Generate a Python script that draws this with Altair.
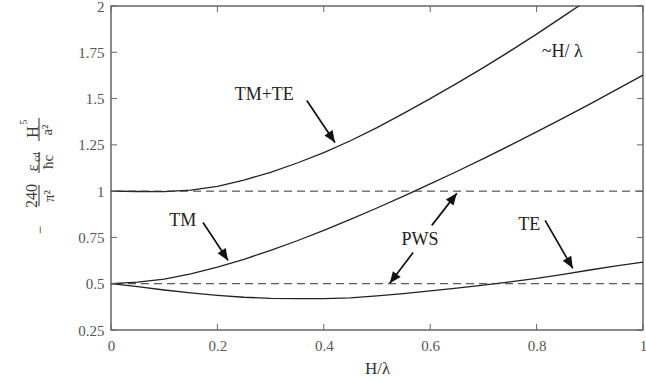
import math
import altair as alt
import pandas as pd

# ---------------- data ----------------
x_vals = [0.0, 0.05, 0.1, 0.15, 0.2, 0.25, 0.3, 0.35, 0.4, 0.45, 0.5,
          0.55, 0.6, 0.65, 0.7, 0.75, 0.8, 0.85, 0.9, 0.95, 1.0]
te_vals = [0.5, 0.484, 0.466, 0.45, 0.437, 0.427, 0.421, 0.419, 0.419, 0.424, 0.434,
           0.447, 0.461, 0.476, 0.492, 0.51, 0.529, 0.551, 0.574, 0.596, 0.617]
tm_vals = [0.5, 0.509, 0.525, 0.553, 0.589, 0.632, 0.68, 0.732, 0.788, 0.847, 0.909,
           0.973, 1.039, 1.106, 1.176, 1.247, 1.32, 1.394, 1.47, 1.548, 1.627]
x_sum = [0.0, 0.05, 0.1, 0.15, 0.2, 0.25, 0.3, 0.35, 0.4, 0.45, 0.5,
         0.55, 0.6, 0.65, 0.7, 0.75, 0.8, 0.85, 0.9]
tmte_vals = [1.0, 0.998, 0.997, 1.005, 1.026, 1.06, 1.102, 1.152, 1.208, 1.272, 1.343,
             1.42, 1.5, 1.582, 1.667, 1.756, 1.848, 1.944, 2.04]

pws_levels = [0.5, 1.0]
x_ticks = [0, 0.2, 0.4, 0.6, 0.8, 1]
y_ticks = [0.25, 0.5, 0.75, 1, 1.25, 1.5, 1.75, 2]

ann_text = ["TM+TE", "~H/ λ", "TM", "PWS", "TE"]
ann_x = [0.288, 0.848, 0.135, 0.581, 0.786]
ann_y = [1.517, 1.75, 0.837, 0.734, 0.815]

arrow_x0 = [0.368, 0.173, 0.603, 0.568, 0.816]
arrow_y0 = [1.49, 0.831, 0.815, 0.669, 0.842]
arrow_x1 = [0.421, 0.220, 0.650, 0.524, 0.868]
arrow_y1 = [1.263, 0.626, 0.988, 0.502, 0.583]

# ---------------- layout ----------------
W, H = 532, 324
X_DOM, Y_DOM = [0, 1], [0.25, 2]
FONT = "Liberation Serif"
INK = "#222222"
GREY = "#555555"
TITLE_INK = "#3a3a3a"

xs = alt.Scale(domain=X_DOM, nice=False, zero=False)
ys = alt.Scale(domain=Y_DOM, nice=False, zero=False)

curves = pd.DataFrame({"x": x_vals, "TE": te_vals, "TM": tm_vals})
sum_df = pd.DataFrame({"x": x_sum, "S": tmte_vals})

AX = alt.Axis(values=x_ticks, labelExpr="toString(datum.value)", grid=False,
              ticks=False, domain=False, labelFont=FONT, labelFontSize=15,
              labelColor=GREY, labelPadding=8, labelFlush=False,
              title="H/λ", titleFont=FONT, titleFontSize=17,
              titleFontWeight="normal", titleColor="#333333",
              titleX=266, titleY=38, titleBaseline="middle")
AY = alt.Axis(values=y_ticks, labelExpr="toString(datum.value)", grid=False,
              ticks=False, domain=False, labelFont=FONT, labelFontSize=15,
              labelColor=GREY, labelPadding=7, labelFlush=False, title="")


def X(field):
    return alt.X(field, scale=xs, axis=AX, title="H/λ")


def Y(field):
    return alt.Y(field, scale=ys, axis=AY, title="")


te_line = alt.Chart(curves).mark_line(color=INK, strokeWidth=1.3).encode(
    x=X("x:Q"), y=Y("TE:Q"))
tm_line = alt.Chart(curves).mark_line(color=INK, strokeWidth=1.3).encode(
    x=X("x:Q"), y=Y("TM:Q"))
sum_line = alt.Chart(sum_df).mark_line(color=INK, strokeWidth=1.3, clip=True).encode(
    x=X("x:Q"), y=Y("S:Q"))
pws = alt.Chart(pd.DataFrame({"v": pws_levels})).mark_rule(
    color="#333333", strokeWidth=1, strokeDash=[8, 5]).encode(y=Y("v:Q"))

# inward ticks on all four sides
TL = 6
yt = pd.DataFrame({"v": y_ticks})
xt = pd.DataFrame({"v": x_ticks})
tick_style = dict(color="#666666", strokeWidth=1)
ticks = [
    alt.Chart(yt).mark_rule(**tick_style).encode(y=Y("v:Q"), x=alt.value(0), x2=alt.value(TL)),
    alt.Chart(yt).mark_rule(**tick_style).encode(y=Y("v:Q"), x=alt.value(W - TL), x2=alt.value(W)),
    alt.Chart(xt).mark_rule(**tick_style).encode(x=X("v:Q"), y=alt.value(H - TL), y2=alt.value(H)),
    alt.Chart(xt).mark_rule(**tick_style).encode(x=X("v:Q"), y=alt.value(0), y2=alt.value(TL)),
]

# annotations
ann = alt.Chart(pd.DataFrame({"t": ann_text, "x": ann_x, "y": ann_y})).mark_text(
    font=FONT, fontSize=18, color=INK, align="center", baseline="middle").encode(
    x=X("x:Q"), y=Y("y:Q"), text="t:N")

px_per_x = W / (X_DOM[1] - X_DOM[0])
px_per_y = H / (Y_DOM[1] - Y_DOM[0])
angles = []
for a, b, c, d in zip(arrow_x0, arrow_y0, arrow_x1, arrow_y1):
    dx = (c - a) * px_per_x
    dy = -(d - b) * px_per_y
    angles.append(math.degrees(math.atan2(dx, -dy)) % 360)
arr_df = pd.DataFrame({"x0": arrow_x0, "y0": arrow_y0, "x1": arrow_x1, "y1": arrow_y1,
                       "ang": angles})
shafts = alt.Chart(arr_df).mark_rule(color="#111111", strokeWidth=1.7).encode(
    x=X("x0:Q"), y=Y("y0:Q"), x2="x1:Q", y2="y1:Q")
heads = alt.Chart(arr_df).mark_point(
    shape="M0,0L0.42,1L-0.42,1Z", filled=True, opacity=1, color="#111111",
    size=540, strokeWidth=0).encode(
    x=X("x1:Q"), y=Y("y1:Q"), angle=alt.Angle("ang:Q", scale=None))

# y-axis title built from pieces (rotated)
one = pd.DataFrame({"k": [0]})


def piece(txt, px, py, size=15):
    return alt.Chart(one).mark_text(font=FONT, fontSize=size, color=TITLE_INK, angle=270,
                                    align="center", baseline="middle").encode(
        x=alt.value(px), y=alt.value(py), text=alt.value(txt))


def bar(px, py0, py1):
    return alt.Chart(one).mark_rule(color=TITLE_INK, strokeWidth=1.1).encode(
        x=alt.value(px), y=alt.value(py0), y2=alt.value(py1))


ytitle = [
    piece("−", -71, 224),
    piece("240", -79, 190, 16),
    bar(-72, 179, 200),
    piece("π²", -62, 190),
    piece("ε", -78, 162, 16),
    piece("cd", -74.5, 151, 10),
    bar(-72, 146, 167),
    piece("ħc", -63, 156),
    piece("H", -78.5, 126, 16),
    piece("5", -87, 116, 10),
    bar(-72, 112, 135),
    piece("a²", -64, 124),
]

chart = alt.layer(te_line, tm_line, sum_line, pws, *ticks, shafts, heads, ann,
                  *ytitle).properties(
    width=W, height=H,
    padding={"left": 111, "top": 6, "right": 3, "bottom": 51},
    autosize=alt.AutoSizeParams(type="none"),
    background="white",
).configure_view(stroke="#666666", strokeWidth=1.5)

chart.save("out.html", embed_options={"renderer": "svg", "actions": False})
